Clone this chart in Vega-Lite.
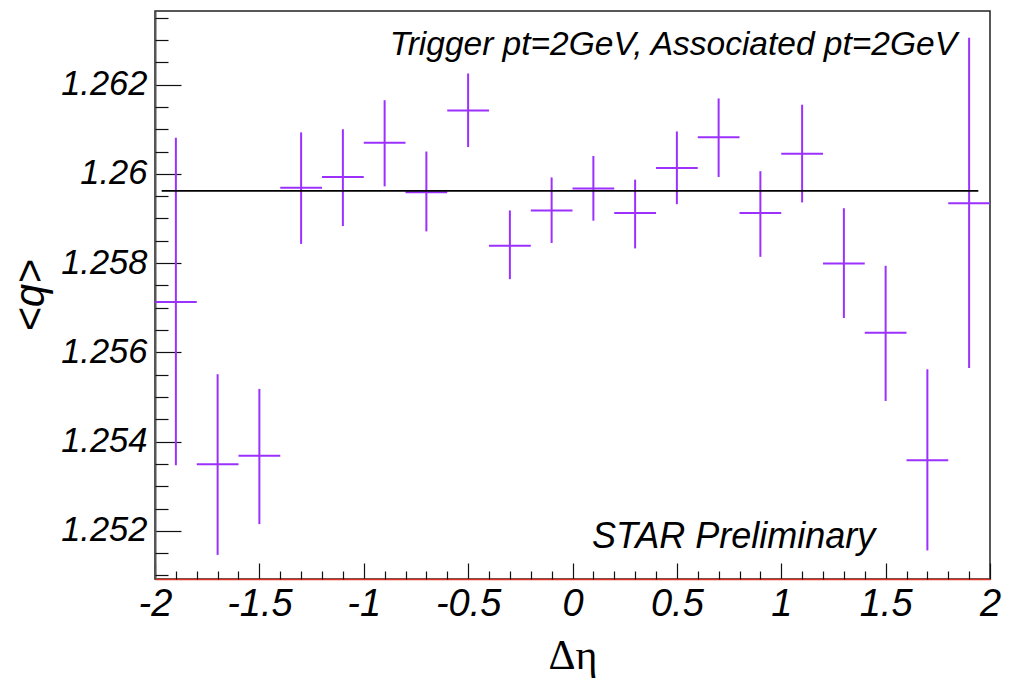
{
  "$schema": "https://vega.github.io/schema/vega-lite/v6.json",
  "width": 835,
  "height": 568,
  "autosize": "none",
  "padding": {"left": 155, "top": 11, "right": 21, "bottom": 104},
  "background": "white",
  "config": {
    "view": {"stroke": "#222", "strokeWidth": 1.5},
    "font": "Liberation Sans"
  },
  "datasets": {
    "pts": [
      {"eta": -1.9, "e0": -2.0, "e1": -1.8, "q": 1.25713, "lo": 1.25347, "hi": 1.26081},
      {"eta": -1.7, "e0": -1.8, "e1": -1.6, "q": 1.25349, "lo": 1.25146, "hi": 1.25551},
      {"eta": -1.5, "e0": -1.6, "e1": -1.4, "q": 1.25368, "lo": 1.25215, "hi": 1.25518},
      {"eta": -1.3, "e0": -1.4, "e1": -1.2, "q": 1.25969, "lo": 1.25843, "hi": 1.26093},
      {"eta": -1.1, "e0": -1.2, "e1": -1.0, "q": 1.25993, "lo": 1.25883, "hi": 1.26100},
      {"eta": -0.9, "e0": -1.0, "e1": -0.8, "q": 1.26070, "lo": 1.25972, "hi": 1.26165},
      {"eta": -0.7, "e0": -0.8, "e1": -0.6, "q": 1.25959, "lo": 1.25871, "hi": 1.26050},
      {"eta": -0.5, "e0": -0.6, "e1": -0.4, "q": 1.26142, "lo": 1.26060, "hi": 1.26225},
      {"eta": -0.3, "e0": -0.4, "e1": -0.2, "q": 1.25839, "lo": 1.25764, "hi": 1.25918},
      {"eta": -0.1, "e0": -0.2, "e1": 0.0, "q": 1.25918, "lo": 1.25845, "hi": 1.25992},
      {"eta": 0.1, "e0": 0.0, "e1": 0.2, "q": 1.25967, "lo": 1.25895, "hi": 1.26040},
      {"eta": 0.3, "e0": 0.2, "e1": 0.4, "q": 1.25912, "lo": 1.25833, "hi": 1.25987},
      {"eta": 0.5, "e0": 0.4, "e1": 0.6, "q": 1.26013, "lo": 1.25932, "hi": 1.26095},
      {"eta": 0.7, "e0": 0.6, "e1": 0.8, "q": 1.26082, "lo": 1.25993, "hi": 1.26169},
      {"eta": 0.9, "e0": 0.8, "e1": 1.0, "q": 1.25912, "lo": 1.25814, "hi": 1.26006},
      {"eta": 1.1, "e0": 1.0, "e1": 1.2, "q": 1.26045, "lo": 1.25936, "hi": 1.26155},
      {"eta": 1.3, "e0": 1.2, "e1": 1.4, "q": 1.25799, "lo": 1.25677, "hi": 1.25923},
      {"eta": 1.5, "e0": 1.4, "e1": 1.6, "q": 1.25644, "lo": 1.25491, "hi": 1.25794},
      {"eta": 1.7, "e0": 1.6, "e1": 1.8, "q": 1.25358, "lo": 1.25156, "hi": 1.25562},
      {"eta": 1.9, "e0": 1.8, "e1": 2.0, "q": 1.25934, "lo": 1.25565, "hi": 1.26305}
    ],
    "fit": [
      {"a": -1.968, "b": 1.944, "q": 1.25962}
    ],
    "notes": [
      {"x": 1.842, "y": 1.26266, "label": "Trigger pt=2GeV, Associated pt=2GeV", "kind": "trig"},
      {"x": 0.093, "y": 1.25161, "label": "STAR Preliminary", "kind": "star"}
    ]
  },
  "resolve": {"axis": {"x": "independent", "y": "independent"}},
  "layer": [
    {
      "data": {"name": "pts"},
      "mark": {"type": "rule", "color": "#9b30ff", "strokeWidth": 2},
      "encoding": {
        "x": {
          "field": "eta",
          "type": "quantitative",
          "scale": {"domain": [-2, 2], "nice": false, "zero": false},
          "axis": {
            "orient": "bottom",
            "title": "Δη",
            "titleFont": "Liberation Serif",
            "titleFontSize": 42,
            "titleFontWeight": "normal",
            "titleColor": "#000",
            "titlePadding": 12,
            "values": [-2, -1.5, -1, -0.5, 0, 0.5, 1, 1.5, 2],
            "labelExpr": "replace(format(datum.value, '.1~f'), '−', '-')",
            "labelFont": "Liberation Sans",
            "labelFontStyle": "italic",
            "labelFontSize": 38,
            "labelColor": "#000",
            "labelPadding": 22,
            "labelFlush": false,
            "labelOverlap": false,
            "tickSize": -16,
            "tickColor": "#111",
            "tickWidth": 1.2,
            "domainColor": "#e03020",
            "domainWidth": 1.5,
            "grid": false
          }
        },
        "y": {
          "field": "lo",
          "type": "quantitative",
          "scale": {"domain": [1.25092, 1.26365], "nice": false, "zero": false},
          "axis": {
            "orient": "left",
            "title": "<q>",
            "titleFont": "Liberation Sans",
            "titleFontStyle": "italic",
            "titleFontSize": 42,
            "titleFontWeight": "normal",
            "titleColor": "#000",
            "titlePadding": 8,
            "values": [1.252, 1.254, 1.256, 1.258, 1.26, 1.262],
            "format": ".3~f",
            "labelFont": "Liberation Sans",
            "labelFontStyle": "italic",
            "labelFontSize": 34.5,
            "labelColor": "#000",
            "labelPadding": 34,
            "labelFlush": false,
            "labelOverlap": false,
            "tickSize": -26,
            "tickColor": "#111",
            "tickWidth": 1.2,
            "domainColor": "#555",
            "domainWidth": 2,
            "grid": false
          }
        },
        "y2": {"field": "hi"}
      }
    },
    {
      "data": {"name": "pts"},
      "mark": {"type": "rule", "color": "#9b30ff", "strokeWidth": 2},
      "encoding": {
        "x": {"field": "e0", "type": "quantitative", "axis": null},
        "x2": {"field": "e1"},
        "y": {"field": "q", "type": "quantitative", "axis": null}
      }
    },
    {
      "data": {"name": "fit"},
      "mark": {"type": "rule", "color": "#000", "strokeWidth": 1.8},
      "encoding": {
        "x": {
          "field": "a",
          "type": "quantitative",
          "axis": {
            "orient": "bottom",
            "title": null,
            "values": [-1.9, -1.8, -1.7, -1.6, -1.4, -1.3, -1.2, -1.1, -0.9, -0.8, -0.7, -0.6, -0.4, -0.3, -0.2, -0.1, 0.1, 0.2, 0.3, 0.4, 0.6, 0.7, 0.8, 0.9, 1.1, 1.2, 1.3, 1.4, 1.6, 1.7, 1.8, 1.9],
            "labels": false,
            "domain": false,
            "grid": false,
            "tickSize": -8,
            "tickColor": "#111",
            "tickWidth": 1.2
          }
        },
        "x2": {"field": "b"},
        "y": {
          "field": "q",
          "type": "quantitative",
          "axis": {
            "orient": "left",
            "title": null,
            "values": [1.251, 1.2515, 1.2525, 1.253, 1.2535, 1.2545, 1.255, 1.2555, 1.2565, 1.257, 1.2575, 1.2585, 1.259, 1.2595, 1.2605, 1.261, 1.2615, 1.2625, 1.263, 1.2635],
            "labels": false,
            "domain": false,
            "grid": false,
            "tickSize": -13,
            "tickColor": "#111",
            "tickWidth": 1.2
          }
        }
      }
    },
    {
      "data": {"name": "notes"},
      "transform": [{"filter": "datum.kind == 'trig'"}],
      "mark": {"type": "text", "align": "right", "baseline": "alphabetic", "font": "Liberation Sans", "fontStyle": "italic", "fontSize": 33.5, "color": "#000"},
      "encoding": {
        "x": {"field": "x", "type": "quantitative", "axis": null},
        "y": {"field": "y", "type": "quantitative", "axis": null},
        "text": {"field": "label"}
      }
    },
    {
      "data": {"name": "notes"},
      "transform": [{"filter": "datum.kind == 'star'"}],
      "mark": {"type": "text", "align": "left", "baseline": "alphabetic", "font": "Liberation Sans", "fontStyle": "italic", "fontSize": 36, "color": "#000"},
      "encoding": {
        "x": {"field": "x", "type": "quantitative", "axis": null},
        "y": {"field": "y", "type": "quantitative", "axis": null},
        "text": {"field": "label"}
      }
    }
  ]
}
